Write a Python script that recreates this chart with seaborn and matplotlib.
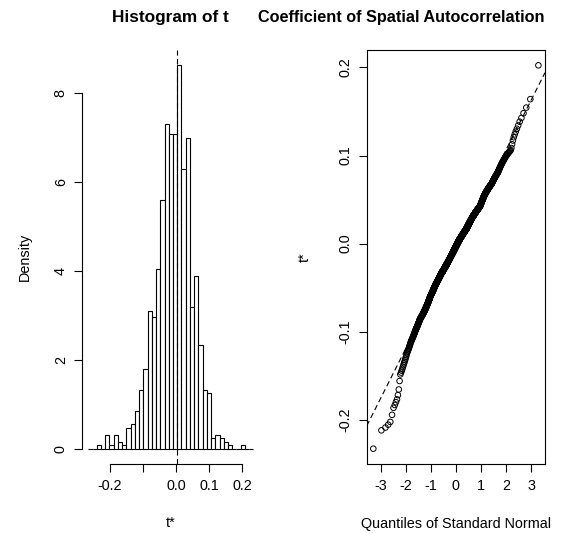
import numpy as np
import matplotlib
matplotlib.use("Agg")
import matplotlib.pyplot as plt
import seaborn as sns
from statistics import NormalDist

# Bootstrap replicates t*, summarised as counts per histogram class
t0 = 0.004                 # observed statistic (dashed line in the histogram)
class_width = 0.0128
first_break = -21          # first break = t0 + first_break * class_width
class_counts = [0, 0, 1, 0, 4, 1, 4, 2, 1, 6, 7, 11, 17, 23, 40, 38, 52, 72,
                94, 91, 91, 111, 81, 90, 41, 50, 30, 17, 16, 3, 4, 3, 2, 1,
                0, 0, 1, 0, 0]

hist_xticks = [-0.2, -0.1, 0.0, 0.1, 0.2]
hist_xticklabels = ["-0.2", "", "0.0", "0.1", "0.2"]
hist_yticks = [0, 2, 4, 6, 8]
qq_xticks = [-3, -2, -1, 0, 1, 2, 3]
qq_yticks = [-0.2, -0.1, 0.0, 0.1, 0.2]

title_left = "Histogram of t"
title_right = "Coefficient of Spatial Autocorrelation"

# Rebuild the replicates from the class counts (spread evenly inside each class)
breaks = t0 + (first_break + np.arange(len(class_counts) + 1)) * class_width
t_star = np.concatenate([
    breaks[i] + (np.arange(c) + 0.5) / c * class_width
    for i, c in enumerate(class_counts) if c > 0
])
n = len(t_star)
t_sorted = np.sort(t_star)
probs = (np.arange(1, n + 1) - 0.5) / n
theo = np.array([NormalDist().inv_cdf(p) for p in probs])

sns.set_style("ticks")
plt.rcParams["font.family"] = ["Liberation Sans", "DejaVu Sans"]
plt.rcParams["axes.linewidth"] = 0.8

W, H = 562, 534
fig = plt.figure(figsize=(W / 100, H / 100), dpi=100)
fig.patch.set_facecolor("white")

top_px, bot_px = 50, 464
ax1 = fig.add_axes([81.7 / W, (H - bot_px) / H, 178.3 / W, (bot_px - top_px) / H])
ax2 = fig.add_axes([366.7 / W, (H - bot_px) / H, 178.3 / W, (bot_px - top_px) / H])

dash = (0, (5, 3))
tick_fs = 10.4

# ---- histogram of the replicates ----
sns.histplot(x=t_star, bins=breaks, stat="density", color="white", alpha=1,
             edgecolor="black", linewidth=0.8, ax=ax1)
dens_max = max(class_counts) / (n * class_width)
rng = breaks[-1] - breaks[0]
ax1.set_xlim(breaks[0] - 0.04 * rng, breaks[-1] + 0.04 * rng)
ax1.set_ylim(-0.04 * dens_max, 1.04 * dens_max)
ax1.axvline(t0, color="black", lw=0.8, ls=dash)
ax1.set_xticks(hist_xticks)
ax1.set_xticklabels(hist_xticklabels)
ax1.set_yticks(hist_yticks)
ax1.set_yticklabels([str(v) for v in hist_yticks])
for s in ("top", "right"):
    ax1.spines[s].set_visible(False)
ax1.spines["left"].set_bounds(hist_yticks[0], hist_yticks[-1])
ax1.spines["bottom"].set_bounds(hist_xticks[0], hist_xticks[-1])
ax1.set_xlabel("")
ax1.set_ylabel("")

# ---- normal QQ plot of the replicates ----
sns.scatterplot(x=theo, y=t_sorted, ax=ax2, marker="o", s=16, linewidth=0.7)
coll = ax2.collections[-1]
coll.set_facecolor("none")
coll.set_edgecolor("black")
xr = theo[-1] - theo[0]
yr = t_sorted[-1] - t_sorted[0]
ax2.set_xlim(theo[0] - 0.04 * xr, theo[-1] + 0.04 * xr)
ax2.set_ylim(t_sorted[0] - 0.04 * yr, t_sorted[-1] + 0.04 * yr)
ax2.axline((0, t_star.mean()), slope=t_star.std(ddof=1), color="black",
           lw=0.8, ls=dash)
ax2.set_xticks(qq_xticks)
ax2.set_xticklabels([str(v) for v in qq_xticks])
ax2.set_yticks(qq_yticks)
ax2.set_yticklabels([f"{v:.1f}" for v in qq_yticks])
ax2.set_xlabel("")
ax2.set_ylabel("")

for ax in (ax1, ax2):
    ax.set_facecolor("white")
    ax.grid(False)
    ax.tick_params(direction="out", length=6, width=0.8, pad=5,
                   labelsize=tick_fs, colors="black")
    ax.tick_params(axis="y", pad=4)
    for lab in ax.get_yticklabels():
        lab.set_rotation(90)
        lab.set_va("center")
    for s in ax.spines.values():
        s.set_color("black")

def ftext(x, y, s, **kw):
    fig.text(x / W, 1 - y / H, s, ha="center", va="center", color="black", **kw)

ftext(170.5, 17.5, title_left, fontsize=12.4, fontweight="bold")
ftext(401.5, 17.5, title_right, fontsize=11.7, fontweight="bold")
ftext(25, 257, "Density", fontsize=tick_fs, rotation=90)
ftext(171, 523, "t*", fontsize=tick_fs)
ftext(305, 257, "t*", fontsize=tick_fs, rotation=90)
ftext(456, 524, "Quantiles of Standard Normal", fontsize=tick_fs)

fig.savefig("out.png", dpi=100)
